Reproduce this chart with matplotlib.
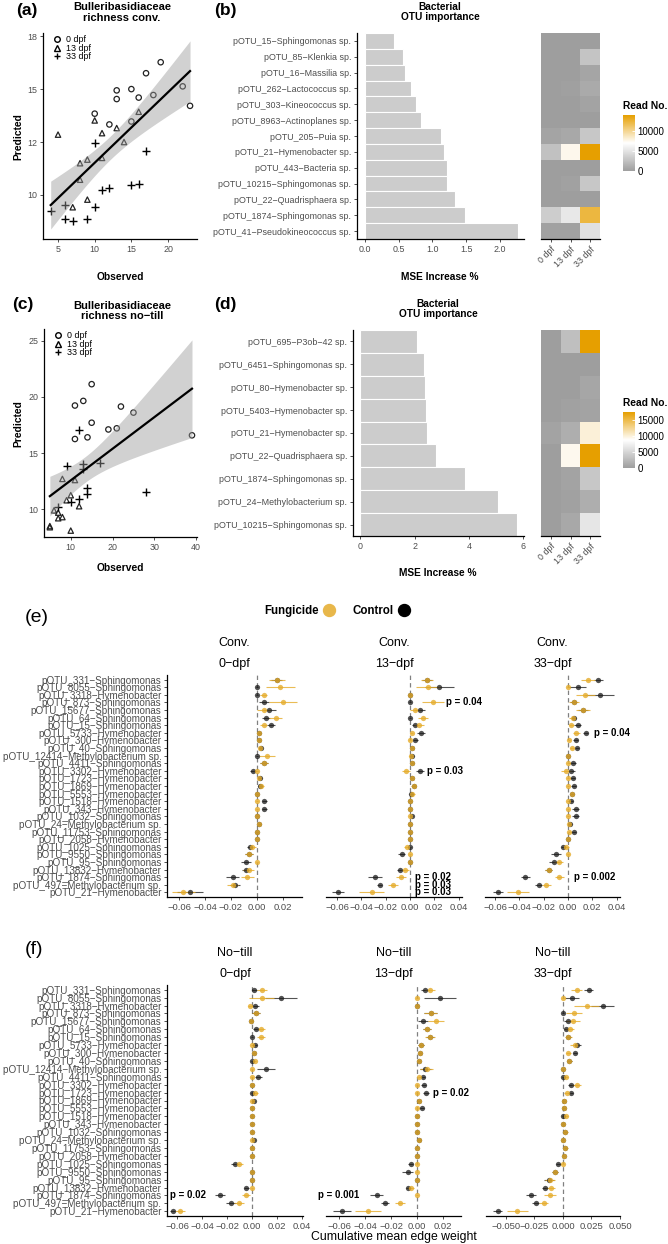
import matplotlib
matplotlib.use('Agg')
import matplotlib.pyplot as plt
import numpy as np
from matplotlib.colors import LinearSegmentedColormap
from matplotlib.lines import Line2D

plt.rcParams['font.family'] = ['Liberation Sans', 'DejaVu Sans']

M = '\u2212'
GRAY = '#4d4d4d'
W, H = 668, 1244

# ---- (a) / (c) observed vs predicted richness ----
a_x0 = [13, 13, 15, 16, 17, 19, 18, 22, 23, 10, 12, 15]
a_y0 = [14.94, 14.53, 15.0, 14.6, 15.75, 16.27, 14.72, 15.13, 14.21, 13.84, 13.33, 13.47]
a_x13 = [5, 10, 11, 13, 16, 14, 11, 9, 8, 8, 9, 7]
a_y13 = [12.85, 13.52, 12.92, 13.16, 13.93, 12.5, 11.75, 11.67, 11.5, 10.72, 9.78, 9.42]
a_x33 = [4, 6, 6, 7, 9, 10, 10, 11, 12, 15, 16, 17]
a_y33 = [9.25, 9.53, 8.88, 8.77, 8.88, 9.43, 12.47, 10.25, 10.33, 10.49, 10.52, 12.1]

c_x0 = [15, 13, 11, 22, 25, 15, 19, 21, 14, 11, 39]
c_y0 = [21.13, 19.64, 19.23, 19.14, 18.6, 17.7, 17.1, 17.2, 16.4, 16.25, 16.58]
c_x13 = [11, 8, 10, 9, 12, 6, 7, 7, 8, 10, 5, 5]
c_y13 = [12.6, 12.7, 11.25, 10.8, 10.27, 9.9, 9.7, 9.2, 9.3, 8.1, 8.5, 8.4]
c_x33 = [12, 9, 13, 13, 17, 14, 14, 12, 10, 7, 28]
c_y33 = [17.05, 13.84, 14.0, 13.6, 14.1, 11.9, 11.4, 10.9, 10.65, 10.2, 11.55]

dpf_labels = ['0 dpf', '13 dpf', '33 dpf']

# ---- (b) / (d) OTU importance ----
b_otus = ['pOTU_15-Sphingomonas sp.', 'pOTU_85-Klenkia sp.', 'pOTU_16-Massilia sp.',
          'pOTU_262-Lactococcus sp.', 'pOTU_303-Kineococcus sp.', 'pOTU_8963-Actinoplanes sp.',
          'pOTU_205-Puia sp.', 'pOTU_21-Hymenobacter sp.', 'pOTU_443-Bacteria sp.',
          'pOTU_10215-Sphingomonas sp.', 'pOTU_22-Quadrisphaera sp.', 'pOTU_1874-Sphingomonas sp.',
          'pOTU_41-Pseudokineococcus sp.']
b_mse = [0.44, 0.56, 0.59, 0.68, 0.76, 0.83, 1.13, 1.18, 1.21, 1.22, 1.33, 1.49, 2.26]
b_reads = [[0, 0, 0], [0, 0, 2800], [0, 0, 600], [0, 200, 900], [0, 100, 400], [0, 0, 0],
           [500, 800, 3000], [2600, 7600, 14100], [0, 0, 0], [0, 300, 3000], [0, 0, 0],
           [3500, 5400, 12300], [300, 300, 4800]]

d_otus = ['pOTU_695-P3ob-42 sp.', 'pOTU_6451-Sphingomonas sp.', 'pOTU_80-Hymenobacter sp.',
          'pOTU_5403-Hymenobacter sp.', 'pOTU_21-Hymenobacter sp.', 'pOTU_22-Quadrisphaera sp.',
          'pOTU_1874-Sphingomonas sp.', 'pOTU_24-Methylobacterium sp.', 'pOTU_10215-Sphingomonas sp.']
d_mse = [2.08, 2.35, 2.39, 2.42, 2.45, 2.80, 3.87, 5.09, 5.78]
d_reads = [[0, 3000, 17400], [0, 0, 0], [0, 0, 800], [0, 300, 500], [500, 1500, 10000],
           [0, 9300, 17400], [0, 500, 3700], [0, 300, 1500], [0, 1000, 6500]]

# ---- (e) / (f) cumulative mean edge weight ----
otus = ['pOTU_331-Sphingomonas', 'pOTU_8055-Sphingomonas', 'pOTU_3318-Hymenobacter',
        'pOTU_873-Sphingomonas', 'pOTU_15677-Sphingomonas', 'pOTU_64-Sphingomonas',
        'pOTU_15-Sphingomonas', 'pOTU_5733-Hymenobacter', 'pOTU_300-Hymenobacter',
        'pOTU_40-Sphingomonas', 'pOTU_12414-Methylobacterium sp.', 'pOTU_4411-Sphingomonas',
        'pOTU_3302-Hymenobacter', 'pOTU_1723-Hymenobacter', 'pOTU_1869-Hymenobacter',
        'pOTU_5553-Hymenobacter', 'pOTU_1518-Hymenobacter', 'pOTU_343-Hymenobacter',
        'pOTU_1032-Sphingomonas', 'pOTU_24-Methylobacterium sp.', 'pOTU_11753-Sphingomonas',
        'pOTU_2058-Hymenobacter', 'pOTU_1025-Sphingomonas', 'pOTU_9550-Sphingomonas',
        'pOTU_95-Sphingomonas', 'pOTU_13832-Hymenobacter', 'pOTU_1874-Sphingomonas',
        'pOTU_497-Methylobacterium sp.', 'pOTU_21-Hymenobacter']

conv0_f = [0.0155, 0.018, 0.005, 0.02, 0.005, 0.0146, 0.005, 0.0018, 0.0015, 0.0025, 0.0075, 0.0055, 0.0,
           0.0015, 0.003, 0.0, 0.0, 0.0, 0.0, 0.0018, 0.0, 0.0, -0.0035, -0.006, 0.0, -0.0065, -0.0075,
           -0.0187, -0.0567]
conv0_fe = [0.006, 0.011, 0.003, 0.011, 0.005, 0.005, 0.003, 0.001, 0.001, 0.001, 0.006, 0.003, 0.001,
            0.001, 0.002, 0.001, 0.001, 0.001, 0.001, 0.001, 0.001, 0.001, 0.003, 0.003, 0.001, 0.004,
            0.005, 0.004, 0.009]
conv0_c = [0.015, 0.0, 0.0, 0.0055, 0.0095, 0.007, 0.0105, 0.0018, 0.0015, 0.003, 0.0, 0.0055, -0.003,
           0.0025, 0.002, 0.0, 0.0055, 0.0055, 0.0, 0.0018, 0.0, 0.0, -0.0055, -0.006, -0.0085, -0.0085,
           -0.0185, -0.017, -0.0515]
conv0_ce = [0.004, 0.001, 0.001, 0.004, 0.005, 0.003, 0.003, 0.001, 0.001, 0.001, 0.001, 0.003, 0.002,
            0.001, 0.001, 0.001, 0.002, 0.002, 0.001, 0.001, 0.001, 0.001, 0.002, 0.003, 0.004, 0.003,
            0.005, 0.004, 0.01]

conv13_f = [0.0143, 0.015, 0.0, 0.0187, 0.004, 0.011, 0.0077, 0.0014, 0.0, 0.002, 0.0005, 0.002, -0.0033,
            0.0014, 0.003, 0.002, 0.0, 0.0, 0.0, 0.0, 0.0, 0.0, -0.0027, 0.0, 0.0, -0.004, -0.0074,
            -0.0137, -0.0315]
conv13_fe = [0.005, 0.01, 0.001, 0.009, 0.004, 0.004, 0.004, 0.001, 0.001, 0.001, 0.001, 0.001, 0.003,
             0.001, 0.002, 0.002, 0.001, 0.001, 0.001, 0.001, 0.001, 0.001, 0.002, 0.001, 0.001, 0.003,
             0.004, 0.004, 0.01]
conv13_c = [0.0143, 0.024, 0.0, 0.0, 0.008, 0.0, 0.004, 0.009, 0.0044, 0.002, 0.002, 0.002, 0.0082,
            0.0014, 0.003, 0.0005, 0.0, 0.0, 0.0014, 0.0, 0.0, 0.0, 0.0, -0.0069, 0.0, -0.008, -0.0288,
            -0.0247, -0.059]
conv13_ce = [0.004, 0.012, 0.001, 0.001, 0.004, 0.001, 0.002, 0.003, 0.002, 0.001, 0.001, 0.001, 0.003,
             0.001, 0.001, 0.001, 0.001, 0.001, 0.001, 0.001, 0.001, 0.001, 0.001, 0.003, 0.001, 0.003,
             0.006, 0.002, 0.005]

conv33_f = [0.0165, 0.0, 0.0143, 0.0047, 0.0123, 0.004, 0.0027, 0.007, 0.001, 0.0033, 0.0, 0.0, -0.0014,
            0.0, 0.0, 0.0033, 0.0, 0.0, 0.0, 0.0008, 0.001, 0.0, -0.0014, 0.0, -0.0077, -0.016, -0.0071,
            -0.0178, -0.0414]
conv33_fe = [0.006, 0.001, 0.008, 0.004, 0.006, 0.003, 0.002, 0.003, 0.001, 0.002, 0.001, 0.001, 0.004,
             0.001, 0.001, 0.002, 0.001, 0.001, 0.001, 0.001, 0.001, 0.001, 0.002, 0.001, 0.004, 0.003,
             0.004, 0.004, 0.009]
conv33_c = [0.025, 0.008, 0.026, 0.0047, 0.0123, 0.005, 0.008, 0.0145, 0.0063, 0.0074, 0.0, 0.004, 0.0027,
            0.004, 0.0047, 0.0033, 0.0025, 0.0063, 0.0063, 0.002, 0.0047, 0.0, -0.004, -0.0096, -0.0118,
            -0.016, -0.035, -0.024, -0.0576]
conv33_ce = [0.004, 0.007, 0.012, 0.003, 0.004, 0.002, 0.003, 0.002, 0.002, 0.002, 0.001, 0.003, 0.003,
             0.002, 0.002, 0.002, 0.002, 0.003, 0.003, 0.001, 0.002, 0.001, 0.002, 0.004, 0.004, 0.003,
             0.004, 0.003, 0.004]

nt0_f = [0.0083, 0.0077, -0.0016, 0.0032, -0.0005, 0.0072, 0.0072, 0.0, 0.0016, 0.0024, 0.0, 0.0, 0.0,
         0.0024, 0.0, 0.0, 0.0, 0.0, 0.0, 0.0, 0.0, 0.0, -0.0101, 0.0, 0.0, 0.0, -0.0048, -0.0101, -0.0576]
nt0_fe = [0.004, 0.01, 0.002, 0.003, 0.001, 0.003, 0.003, 0.001, 0.001, 0.001, 0.001, 0.001, 0.001,
          0.002, 0.001, 0.001, 0.001, 0.001, 0.001, 0.001, 0.001, 0.001, 0.003, 0.001, 0.001, 0.001,
          0.003, 0.004, 0.004]
nt0_c = [0.0016, 0.023, 0.0027, 0.0032, -0.0005, 0.003, 0.0, 0.002, 0.0016, 0.0, 0.011, 0.005, 0.0, 0.0,
         0.0012, 0.0, 0.0, 0.0, 0.0, 0.0012, 0.0, 0.0, -0.0136, 0.0, 0.0, -0.0048, -0.0256, -0.0168, -0.0635]
nt0_ce = [0.002, 0.013, 0.003, 0.003, 0.001, 0.002, 0.001, 0.002, 0.001, 0.001, 0.007, 0.003, 0.001,
          0.001, 0.001, 0.001, 0.001, 0.001, 0.001, 0.001, 0.001, 0.001, 0.003, 0.001, 0.001, 0.002,
          0.004, 0.004, 0.002]

nt13_f = [0.01, 0.0, 0.0, 0.0105, 0.0146, 0.0077, 0.01, 0.003, 0.0023, 0.0015, 0.0074, 0.0015, 0.0, 0.0,
          0.0015, 0.0, 0.0, 0.0, 0.0, 0.0018, 0.0, 0.0, 0.0, 0.0, 0.0, -0.005, 0.0, -0.013, -0.038]
nt13_fe = [0.004, 0.001, 0.001, 0.005, 0.006, 0.003, 0.004, 0.002, 0.001, 0.001, 0.005, 0.001, 0.001,
           0.001, 0.001, 0.001, 0.001, 0.001, 0.001, 0.001, 0.001, 0.001, 0.001, 0.001, 0.001, 0.003,
           0.001, 0.004, 0.01]
nt13_c = [0.0062, 0.0177, 0.0, 0.0105, 0.0046, 0.0077, 0.01, 0.003, 0.0023, 0.0015, 0.0064, 0.0044, 0.005,
          0.0069, 0.0015, 0.0036, 0.0, 0.0, 0.0, 0.0018, 0.0, 0.0, -0.005, -0.0072, 0.0, -0.0067, -0.031,
          -0.0246, -0.0574]
nt13_ce = [0.003, 0.012, 0.001, 0.005, 0.004, 0.003, 0.003, 0.002, 0.001, 0.001, 0.004, 0.002, 0.002,
           0.002, 0.001, 0.002, 0.001, 0.001, 0.001, 0.001, 0.001, 0.001, 0.002, 0.004, 0.001, 0.002,
           0.005, 0.003, 0.007]

nt33_f = [0.012, 0.0, 0.0208, 0.01, 0.009, 0.006, 0.0047, 0.0104, 0.0047, 0.0055, 0.0, 0.0026, 0.012,
          0.0032, 0.001, 0.001, 0.0026, 0.0, 0.002, 0.0, 0.002, 0.0012, 0.0, -0.007, -0.0114, -0.0108,
          -0.0114, -0.0167, -0.04]
nt33_fe = [0.005, 0.001, 0.011, 0.007, 0.006, 0.004, 0.003, 0.004, 0.002, 0.002, 0.001, 0.002, 0.004,
           0.002, 0.001, 0.001, 0.002, 0.001, 0.002, 0.001, 0.002, 0.001, 0.001, 0.003, 0.004, 0.004,
           0.005, 0.004, 0.009]
nt33_c = [0.0225, 0.0079, 0.0348, 0.0, 0.004, 0.0026, 0.0047, 0.0126, 0.0105, 0.0055, 0.0, 0.0, 0.007,
          0.0067, 0.001, 0.001, 0.0, 0.0, 0.002, 0.0, 0.002, 0.0012, -0.004, -0.007, -0.0123, -0.0158,
          -0.028, -0.024, -0.0573]
nt33_ce = [0.004, 0.006, 0.01, 0.001, 0.003, 0.002, 0.002, 0.003, 0.002, 0.002, 0.001, 0.001, 0.003,
           0.002, 0.001, 0.001, 0.001, 0.001, 0.001, 0.001, 0.001, 0.001, 0.002, 0.003, 0.004, 0.003,
           0.004, 0.003, 0.004]

fig = plt.figure(figsize=(W / 100, H / 100), dpi=100)


def rect(x0, y0, x1, y1):
    return [x0 / W, 1 - y1 / H, (x1 - x0) / W, (y1 - y0) / H]


def ftext(x, y, s, **kw):
    kw.setdefault('va', 'center')
    fig.text(x / W, 1 - y / H, s, **kw)


def style(ax, size=6.4):
    for s in ['top', 'right']:
        ax.spines[s].set_visible(False)
    for s in ['left', 'bottom']:
        ax.spines[s].set_linewidth(0.9)
    ax.tick_params(length=2.5, width=0.6, color='#333333', labelsize=size, labelcolor=GRAY, pad=1.5)


def scatter_panel(ax, xs, ys, xlim, ylim, xticks, yticks, yticklabels):
    for x, y, m in zip(xs, ys, ['o', '^', '+']):
        if m == '+':
            ax.scatter(x, y, marker='+', s=26, c='black', lw=1.0)
        else:
            ax.scatter(x, y, marker=m, s=15, facecolors='none', edgecolors='#222222', lw=0.9)
    allx = np.concatenate([np.array(v, float) for v in xs])
    ally = np.concatenate([np.array(v, float) for v in ys])
    b, a = np.polyfit(allx, ally, 1)
    xx = np.linspace(allx.min(), allx.max(), 100)
    n = len(allx)
    s = np.sqrt(np.sum((ally - (a + b * allx)) ** 2) / (n - 2))
    se = s * np.sqrt(1 / n + (xx - allx.mean()) ** 2 / np.sum((allx - allx.mean()) ** 2))
    ax.fill_between(xx, a + b * xx - 2.03 * se, a + b * xx + 2.03 * se, color='#999999', alpha=0.45, lw=0)
    ax.plot(xx, a + b * xx, color='black', lw=1.6)
    ax.set_xlim(*xlim)
    ax.set_ylim(*ylim)
    ax.set_xticks(xticks)
    ax.set_yticks(yticks, yticklabels)
    style(ax)
    handles = [Line2D([], [], marker='o', ls='', mfc='none', mec='black', ms=4),
               Line2D([], [], marker='^', ls='', mfc='none', mec='black', ms=4),
               Line2D([], [], marker='+', ls='', color='black', ms=5)]
    ax.legend(handles, dpf_labels, loc='upper left', bbox_to_anchor=(0.03, 1.02), frameon=False,
              fontsize=6.4, handlelength=0.8, handletextpad=0.6, labelspacing=-0.05, borderpad=0.2)


def bar_panel(ax, labels, values, xlim, xticks, xticklabels):
    y = np.arange(len(labels))
    ax.barh(y, values, height=1.0, color='#cccccc', edgecolor='white', lw=0.8)
    ax.set_ylim(len(labels) - 0.5, -0.5)
    ax.set_yticks(y, [l.replace('-', M) for l in labels])
    ax.set_xlim(*xlim)
    ax.set_xticks(xticks, xticklabels)
    style(ax)


cmap = LinearSegmentedColormap.from_list('reads', ['#9e9e9e', '#ffffff', '#E69F00'])


def heat_panel(ax, cax, vals, ticks):
    vals = np.array(vals, float)
    im = ax.imshow(vals, cmap=cmap, vmin=0, vmax=vals.max(), aspect='auto', interpolation='nearest')
    ax.set_yticks([])
    ax.set_xticks([0, 1, 2], dpf_labels, rotation=45, ha='right', rotation_mode='anchor')
    for s in ['top', 'right', 'left']:
        ax.spines[s].set_visible(False)
    ax.spines['bottom'].set_linewidth(0.9)
    ax.tick_params(length=2.5, width=0.6, color='#333333', labelsize=6.4, labelcolor=GRAY, pad=1.5)
    cb = fig.colorbar(im, cax=cax, ticks=ticks)
    cb.outline.set_visible(False)
    cax.tick_params(length=2.5, width=0.6, color='white', direction='in', labelsize=7, pad=2)
    cax.set_title('Read No.', fontsize=7.4, fontweight='bold', loc='left', pad=4)


def forest_panel(ax, fm, fe, cm, ce, xlim, xticks, xticklabels, show_labels):
    y = np.arange(len(otus))
    ax.axvline(0, color='#808080', lw=0.9, ls=(0, (3.5, 2.5)), zorder=0)
    ax.errorbar(cm, y, xerr=ce, fmt='o', color='#1a1a1a', ms=3.8, mew=0, elinewidth=0.8,
                capsize=1.2, capthick=0.6, alpha=0.75)
    ax.errorbar(fm, y, xerr=fe, fmt='o', color='#E5AC2B', ms=3.8, mew=0, elinewidth=0.8,
                capsize=1.2, capthick=0.6, alpha=0.8)
    ax.set_ylim(len(otus) - 0.4, -0.6)
    ax.set_xlim(*xlim)
    ax.set_xticks(xticks, [t.replace('-', M) for t in xticklabels])
    style(ax, size=6.8)
    if show_labels:
        ax.set_yticks(y, [o.replace('-', M) for o in otus])
        ax.tick_params(axis='y', labelsize=7.1)
    else:
        ax.spines['left'].set_visible(False)
        ax.set_yticks([])


def pval(ax, row, x, s):
    ax.text(x, row, s, fontsize=7, fontweight='bold', va='center', ha='left', clip_on=False)


# (a)
ax = fig.add_axes(rect(43, 33, 197, 239))
scatter_panel(ax, [a_x0, a_x13, a_x33], [a_y0, a_y13, a_y33], (2.95, 23.95), (7.92, 17.65),
              [5, 10, 15, 20], [10, 12.5, 15, 17.5], ['10', '12', '15', '18'])
ftext(16, 11, '(a)', fontsize=12.5, fontweight='bold')
ftext(122, 12.5, 'Bulleribasidiaceae\nrichness conv.', fontsize=8, fontweight='bold', ha='center',
      linespacing=1.05)
ftext(18, 137, 'Predicted', fontsize=7.4, fontweight='bold', rotation=90, ha='center')
ftext(120, 277, 'Observed', fontsize=7.4, fontweight='bold', ha='center')

# (c)
ax = fig.add_axes(rect(44, 329, 197, 537))
scatter_panel(ax, [c_x0, c_x13, c_x33], [c_y0, c_y13, c_y33], (3.6, 40.2), (7.53, 26.04),
              [10, 20, 30, 40], [10, 15, 20, 25], ['10', '15', '20', '25'])
ftext(12, 305, '(c)', fontsize=12.5, fontweight='bold')
ftext(122, 311, 'Bulleribasidiaceae\nrichness no' + M + 'till', fontsize=8, fontweight='bold',
      ha='center', linespacing=1.05)
ftext(18, 424, 'Predicted', fontsize=7.4, fontweight='bold', rotation=90, ha='center')
ftext(120, 568, 'Observed', fontsize=7.4, fontweight='bold', ha='center')

# (b)
ax = fig.add_axes(rect(357, 33, 524, 239))
bar_panel(ax, b_otus, b_mse, (-0.114, 2.356), [0, 0.5, 1, 1.5, 2], ['0.0', '0.5', '1.0', '1.5', '2.0'])
hax = fig.add_axes(rect(541, 33, 600, 239))
cax = fig.add_axes(rect(623, 115, 635, 171))
heat_panel(hax, cax, b_reads, [0, 5000, 10000])
ftext(214, 11, '(b)', fontsize=12.5, fontweight='bold')
ftext(440, 12, 'Bacterial\nOTU importance', fontsize=7.3, fontweight='bold', ha='center', linespacing=1.05)
ftext(440, 277, 'MSE Increase %', fontsize=7.3, fontweight='bold', ha='center')

# (d)
ax = fig.add_axes(rect(353, 330, 524, 536))
bar_panel(ax, d_otus, d_mse, (-0.27, 6.03), [0, 2, 4, 6], ['0', '2', '4', '6'])
hax = fig.add_axes(rect(541, 330, 600, 536))
cax = fig.add_axes(rect(623, 412, 635, 468))
heat_panel(hax, cax, d_reads, [0, 5000, 10000, 15000])
ftext(214, 305, '(d)', fontsize=12.5, fontweight='bold')
ftext(438, 309, 'Bacterial\nOTU importance', fontsize=7.3, fontweight='bold', ha='center', linespacing=1.05)
ftext(438, 573, 'MSE Increase %', fontsize=7.3, fontweight='bold', ha='center')

# legend for (e)/(f)
handles = [Line2D([], [], marker='o', ls='', color='#E8B74A', ms=8.6),
           Line2D([], [], marker='o', ls='', color='black', ms=8.6)]
fig.legend(handles, ['Fungicide', 'Control'], loc='center', bbox_to_anchor=(337 / W, 1 - 611 / H),
           ncol=2, markerfirst=False, frameon=False, prop=dict(weight='bold', size=8.3),
           handletextpad=0.4, columnspacing=1.6, handlelength=1.0)

# (e)
e_cols = [(167, 302), (326, 462), (485, 620)]
e_data = [(conv0_f, conv0_fe, conv0_c, conv0_ce), (conv13_f, conv13_fe, conv13_c, conv13_ce),
          (conv33_f, conv33_fe, conv33_c, conv33_ce)]
e_xlims = [(-0.0692, 0.0346), (-0.069, 0.0428), (-0.0683, 0.0428)]
e_ticks = [[-0.06, -0.04, -0.02, 0, 0.02], [-0.06, -0.04, -0.02, 0, 0.02, 0.04],
           [-0.06, -0.04, -0.02, 0, 0.02, 0.04]]
e_axes = []
for i, ((x0, x1), d, xl, tk) in enumerate(zip(e_cols, e_data, e_xlims, e_ticks)):
    ax = fig.add_axes(rect(x0, 675, x1, 897))
    forest_panel(ax, *d, xl, tk, ['%.2f' % t for t in tk], i == 0)
    e_axes.append(ax)
    ftext((x0 + x1) / 2, 643, 'Conv.', fontsize=9, ha='center')
    ftext((x0 + x1) / 2, 664, ['0', '13', '33'][i] + M + 'dpf', fontsize=9, ha='center')
pval(e_axes[1], 3, 0.030, 'p = 0.04')
pval(e_axes[1], 12, 0.0137, 'p = 0.03')
pval(e_axes[1], 26, 0.0041, 'p = 0.02')
pval(e_axes[1], 27, 0.0041, 'p = 0.03')
pval(e_axes[1], 28, 0.0041, 'p = 0.03')
pval(e_axes[2], 7, 0.021, 'p = 0.04')
pval(e_axes[2], 26, 0.0046, 'p = 0.002')
ftext(25, 618, '(e)', fontsize=14)

# (f)
f_cols = [(167, 303), (326, 461), (486, 620)]
f_data = [(nt0_f, nt0_fe, nt0_c, nt0_ce), (nt13_f, nt13_fe, nt13_c, nt13_ce),
          (nt33_f, nt33_fe, nt33_c, nt33_ce)]
f_xlims = [(-0.068, 0.0408), (-0.07, 0.0338), (-0.0675, 0.05)]
f_ticks = [[-0.06, -0.04, -0.02, 0, 0.02, 0.04], [-0.06, -0.04, -0.02, 0, 0.02],
           [-0.05, -0.025, 0, 0.025, 0.05]]
f_fmt = ['%.2f', '%.2f', '%.3f']
f_axes = []
for i, ((x0, x1), d, xl, tk, fm) in enumerate(zip(f_cols, f_data, f_xlims, f_ticks, f_fmt)):
    ax = fig.add_axes(rect(x0, 985, x1, 1216))
    forest_panel(ax, *d, xl, tk, [fm % t for t in tk], i == 0)
    f_axes.append(ax)
    ftext((x0 + x1) / 2, 953, 'No' + M + 'till', fontsize=9, ha='center')
    ftext((x0 + x1) / 2, 974, ['0', '13', '33'][i] + M + 'dpf', fontsize=9, ha='center')
pval(f_axes[0], 26, -0.066, 'p = 0.02')
pval(f_axes[1], 13, 0.0126, 'p = 0.02')
pval(f_axes[1], 26, -0.0764, 'p = 0.001')
ftext(25, 950, '(f)', fontsize=14)
ftext(393.5, 1237, 'Cumulative mean edge weight', fontsize=8.8, ha='center')

fig.savefig('out.png', dpi=100)
